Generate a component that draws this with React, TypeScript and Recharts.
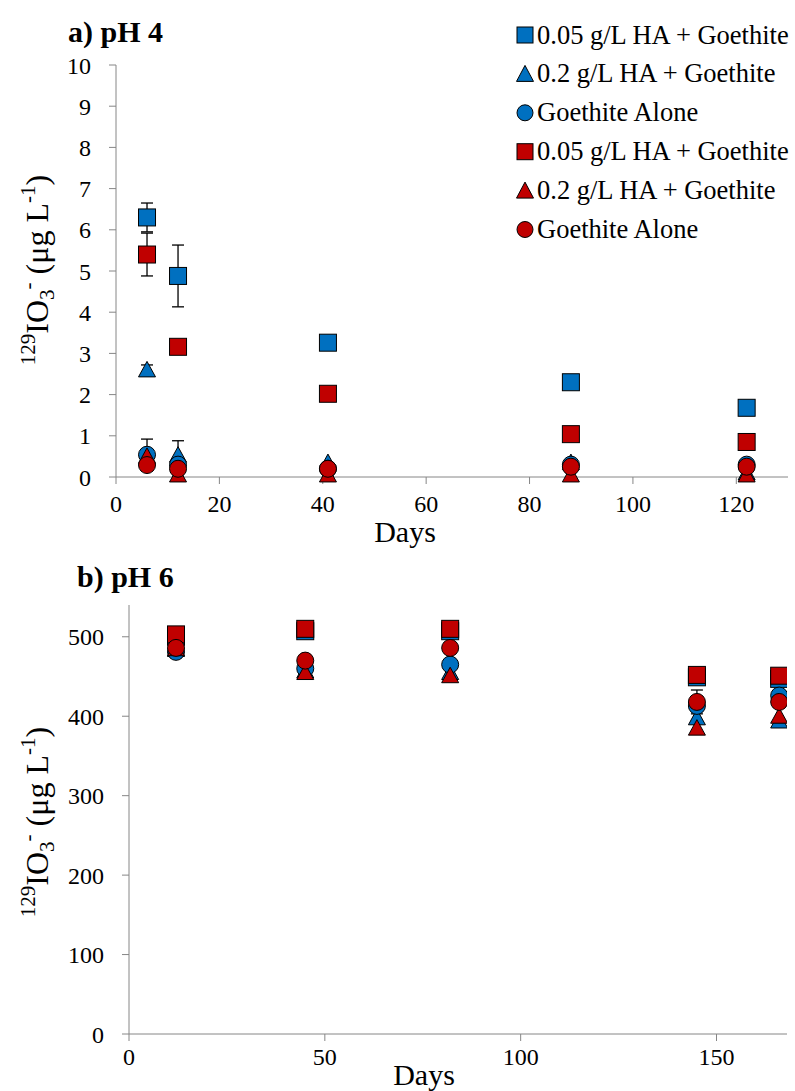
import React from "react"
import { ScatterChart, Scatter, XAxis, YAxis, ErrorBar } from "recharts"

// a) pH 4
const daysA = [6, 12, 41, 88, 122]
const blueSqA = [6.3, 4.88, 3.26, 2.3, 1.68]
const blueSqErrA = [0.35, 0.75, null, null, null]
const blueTriA = [2.6, 0.53, 0.35, 0.35, 0.1]
const blueTriErrA = [0.12, 0.35, null, null, null]
const blueCirA = [0.54, 0.3, 0.2, 0.3, 0.3]
const blueCirErrA = [0.38, null, null, null, null]
const redSqA = [5.4, 3.16, 2.02, 1.04, 0.85]
const redSqErrA = [0.52, null, null, null, null]
const redTriA = [0.5, 0.05, 0.05, 0.05, 0.05]
const redCirA = [0.29, 0.2, 0.2, 0.25, 0.25]
const ticksXA = [0, 20, 40, 60, 80, 100, 120]
const ticksYA = [0, 1, 2, 3, 4, 5, 6, 7, 8, 9, 10]

// b) pH 6
const daysB = [12, 45, 82, 145, 166]
const blueSqB = [500, 507, 507, 449, 447]
const blueTriB = [484, 457, 455, 398, 394]
const blueTriErrB = [null, 8, null, null, null]
const blueCirB = [481, 460, 465, 413, 426]
const redSqB = [503, 510, 510, 452, 451]
const redTriB = [485, 455, 451, 385, 400]
const redCirB = [486, 470, 486, 418, 418]
const redCirErrB = [null, null, null, 15, null]
const ticksXB = [0, 50, 100, 150]
const ticksYB = [0, 100, 200, 300, 400, 500]

const BLUE = "#0070C0"
const RED = "#C00000"
const FONT = "'Liberation Serif', 'Times New Roman', serif"
const AXIS = "#868686"

const rows = (xs: number[], ys: number[], errs?: (number | null)[]) =>
  xs.map((x, i) => ({ x, y: ys[i], err: errs && errs[i] != null ? errs[i] : undefined }))

const square = (color: string) => (p: any) => (
  <rect x={p.cx - 8.5} y={p.cy - 8.5} width={17} height={17} fill={color} stroke="#000" strokeWidth={1} />
)
const triangle = (color: string) => (p: any) => (
  <polygon points={`${p.cx},${p.cy - 8.5} ${p.cx + 8.5},${p.cy + 7} ${p.cx - 8.5},${p.cy + 7}`} fill={color} stroke="#000" strokeWidth={1} />
)
const circle = (color: string) => (p: any) => (
  <circle cx={p.cx} cy={p.cy} r={8.5} fill={color} stroke="#000" strokeWidth={1} />
)

const tickStyle = { fontSize: 24, fontFamily: FONT, fill: "#000" }

function YLabel({ x, y }: { x: number; y: number }) {
  const m = 32
  const s = 21
  return (
    <text transform={`translate(${x},${y}) rotate(-90)`} textAnchor="middle" fontFamily={FONT} fill="#000">
      <tspan fontSize={s} dy={-13}>129</tspan>
      <tspan fontSize={m} dy={13}>IO</tspan>
      <tspan fontSize={s} dy={6}>3</tspan>
      <tspan fontSize={s} dy={-19}>-</tspan>
      <tspan fontSize={m} dy={13}> (μg L</tspan>
      <tspan fontSize={s} dy={-13}>-1</tspan>
      <tspan fontSize={m} dy={13}>)</tspan>
    </text>
  )
}

const legendItems = [
  { label: "0.05 g/L HA + Goethite", color: BLUE, kind: "sq" },
  { label: "0.2 g/L HA + Goethite", color: BLUE, kind: "tri" },
  { label: "Goethite Alone", color: BLUE, kind: "cir" },
  { label: "0.05 g/L HA + Goethite", color: RED, kind: "sq" },
  { label: "0.2 g/L HA + Goethite", color: RED, kind: "tri" },
  { label: "Goethite Alone", color: RED, kind: "cir" },
]

function LegendMarker({ kind, color, cx, cy }: { kind: string; color: string; cx: number; cy: number }) {
  if (kind === "sq") return <rect x={cx - 8} y={cy - 8} width={16} height={16} fill={color} stroke="#000" />
  if (kind === "tri") return <polygon points={`${cx},${cy - 8.5} ${cx + 8.5},${cy + 7.5} ${cx - 8.5},${cy + 7.5}`} fill={color} stroke="#000" />
  return <circle cx={cx} cy={cy} r={8} fill={color} stroke="#000" />
}

export default function App() {
  return (
    <div style={{ position: "absolute", left: 0, top: 0, width: 795, height: 1091, background: "#fff", fontFamily: FONT }}>
      {/* a) pH 4 */}
      <div style={{ position: "absolute", left: 0, top: 0 }}>
        <ScatterChart width={795} height={550} margin={{ top: 65, right: 7, left: 46, bottom: 33 }}>
          <XAxis type="number" dataKey="x" domain={[0, 130]} ticks={ticksXA} stroke={AXIS} tick={tickStyle} tickSize={7} tickMargin={11} height={40} allowDataOverflow />
          <YAxis type="number" dataKey="y" domain={[0, 10]} ticks={ticksYA} stroke={AXIS} tick={tickStyle} tickSize={7} tickMargin={18} width={70} interval={0} />
          <Scatter data={rows(daysA, blueSqA, blueSqErrA)} shape={square(BLUE)} isAnimationActive={false}>
            <ErrorBar dataKey="err" direction="y" width={6} stroke="#000" strokeWidth={1.3} />
          </Scatter>
          <Scatter data={rows(daysA, blueTriA, blueTriErrA)} shape={triangle(BLUE)} isAnimationActive={false}>
            <ErrorBar dataKey="err" direction="y" width={6} stroke="#000" strokeWidth={1.3} />
          </Scatter>
          <Scatter data={rows(daysA, blueCirA, blueCirErrA)} shape={circle(BLUE)} isAnimationActive={false}>
            <ErrorBar dataKey="err" direction="y" width={6} stroke="#000" strokeWidth={1.3} />
          </Scatter>
          <Scatter data={rows(daysA, redSqA, redSqErrA)} shape={square(RED)} isAnimationActive={false}>
            <ErrorBar dataKey="err" direction="y" width={6} stroke="#000" strokeWidth={1.3} />
          </Scatter>
          <Scatter data={rows(daysA, redTriA)} shape={triangle(RED)} isAnimationActive={false} />
          <Scatter data={rows(daysA, redCirA)} shape={circle(RED)} isAnimationActive={false} />
        </ScatterChart>
      </div>

      {/* b) pH 6 */}
      <div style={{ position: "absolute", left: 0, top: 550 }}>
        <ScatterChart width={795} height={541} margin={{ top: 55, right: 8, left: 59, bottom: 27 }}>
          <XAxis type="number" dataKey="x" domain={[0, 168]} ticks={ticksXB} stroke={AXIS} tick={tickStyle} tickSize={7} tickMargin={7} height={30} allowDataOverflow />
          <YAxis type="number" dataKey="y" domain={[0, 540]} ticks={ticksYB} stroke={AXIS} tick={tickStyle} tickSize={7} tickMargin={18} width={70} />
          <Scatter data={rows(daysB, blueSqB)} shape={square(BLUE)} isAnimationActive={false} />
          <Scatter data={rows(daysB, blueTriB, blueTriErrB)} shape={triangle(BLUE)} isAnimationActive={false}>
            <ErrorBar dataKey="err" direction="y" width={6} stroke="#000" strokeWidth={1.3} />
          </Scatter>
          <Scatter data={rows(daysB, blueCirB)} shape={circle(BLUE)} isAnimationActive={false} />
          <Scatter data={rows(daysB, redSqB)} shape={square(RED)} isAnimationActive={false} />
          <Scatter data={rows(daysB, redTriB)} shape={triangle(RED)} isAnimationActive={false} />
          <Scatter data={rows(daysB, redCirB, redCirErrB)} shape={circle(RED)} isAnimationActive={false}>
            <ErrorBar dataKey="err" direction="y" width={6} stroke="#000" strokeWidth={1.3} />
          </Scatter>
        </ScatterChart>
      </div>

      {/* titles, axis labels, legend */}
      <svg width={795} height={1091} style={{ position: "absolute", left: 0, top: 0, pointerEvents: "none" }}>
        <text x={68} y={42} fontFamily={FONT} fontWeight="bold" fontSize={30} fill="#000">a) pH 4</text>
        <text x={77} y={587} fontFamily={FONT} fontWeight="bold" fontSize={30} fill="#000">b) pH 6</text>
        <YLabel x={48} y={270} />
        <YLabel x={48} y={822} />
        <text x={405} y={542} textAnchor="middle" fontFamily={FONT} fontSize={30} fill="#000">Days</text>
        <text x={424} y={1085} textAnchor="middle" fontFamily={FONT} fontSize={30} fill="#000">Days</text>
        {legendItems.map((it, i) => {
          const base = 43.5 + i * 38.9
          return (
            <g key={i}>
              <LegendMarker kind={it.kind} color={it.color} cx={525} cy={base - 8.5} />
              <text x={537} y={base} fontFamily={FONT} fontSize={26.5} fill="#000">{it.label}</text>
            </g>
          )
        })}
      </svg>
    </div>
  )
}
